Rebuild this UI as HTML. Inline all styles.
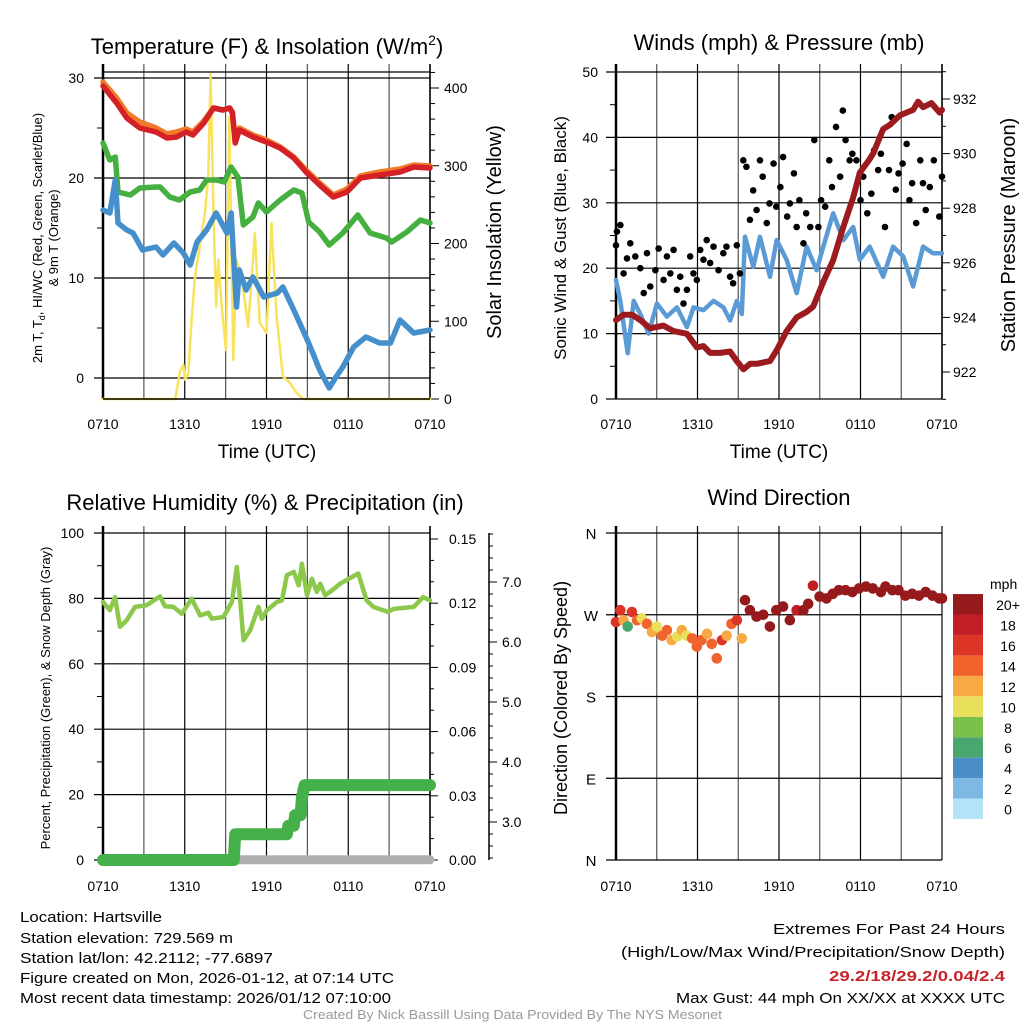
<!DOCTYPE html>
<html><head><meta charset="utf-8"><style>
html,body{margin:0;padding:0;background:#fff;}
svg{display:block;font-family:"Liberation Sans",sans-serif;}
</style></head><body>
<svg id="chart" width="1024" height="1024" viewBox="0 0 1024 1024" xmlns="http://www.w3.org/2000/svg">
<rect width="1024" height="1024" fill="#fff"/>
<text x="267" y="54" font-size="22" text-anchor="middle">Temperature (F) &amp; Insolation (W/m<tspan font-size="14" dy="-9">2</tspan><tspan dy="9">)</tspan></text>
<text x="779" y="50" font-size="22" text-anchor="middle">Winds (mph) &amp; Pressure (mb)</text>
<text x="265" y="510" font-size="22" text-anchor="middle">Relative Humidity (%) &amp; Precipitation (in)</text>
<text x="779" y="505" font-size="22" text-anchor="middle">Wind Direction</text>
<text x="267" y="458" font-size="19" text-anchor="middle">Time (UTC)</text>
<text x="779" y="458" font-size="19" text-anchor="middle">Time (UTC)</text>
<text transform="translate(42,238) rotate(-90)" font-size="13" text-anchor="middle">2m T, T<tspan font-size="9" dy="3">d</tspan><tspan dy="-3">, HI/WC (Red, Green, Scarlet/Blue)</tspan></text>
<text transform="translate(58,238) rotate(-90)" font-size="13" text-anchor="middle">&amp; 9m T (Orange)</text>
<text transform="translate(501,232) rotate(-90)" font-size="20" text-anchor="middle">Solar Insolation (Yellow)</text>
<text transform="translate(566,238) rotate(-90)" font-size="17" text-anchor="middle">Sonic Wind &amp; Gust (Blue, Black)</text>
<text transform="translate(1015,235) rotate(-90)" font-size="20" text-anchor="middle">Station Pressure (Maroon)</text>
<text transform="translate(50,698) rotate(-90)" font-size="13" text-anchor="middle">Percent, Precipitation (Green), &amp; Snow Depth (Gray)</text>
<text transform="translate(567,698) rotate(-90)" font-size="18" text-anchor="middle">Direction (Colored By Speed)</text>
<text x="990" y="589" font-size="14">mph</text>
<g font-size="15" fill="#000">
<text x="20" y="922" textLength="142" lengthAdjust="spacingAndGlyphs">Location: Hartsville</text>
<text x="20" y="943" textLength="213" lengthAdjust="spacingAndGlyphs">Station elevation: 729.569 m</text>
<text x="20" y="963" textLength="253" lengthAdjust="spacingAndGlyphs">Station lat/lon: 42.2112; -77.6897</text>
<text x="20" y="983" textLength="374" lengthAdjust="spacingAndGlyphs">Figure created on Mon, 2026-01-12, at 07:14 UTC</text>
<text x="20" y="1003" textLength="371" lengthAdjust="spacingAndGlyphs">Most recent data timestamp: 2026/01/12 07:10:00</text>
<text x="773" y="934" textLength="232" lengthAdjust="spacingAndGlyphs">Extremes For Past 24 Hours</text>
<text x="621" y="957" textLength="384" lengthAdjust="spacingAndGlyphs">(High/Low/Max Wind/Precipitation/Snow Depth)</text>
<text x="829" y="981" fill="#c8232b" font-weight="bold" textLength="176" lengthAdjust="spacingAndGlyphs">29.2/18/29.2/0.04/2.4</text>
<text x="676" y="1003" textLength="329" lengthAdjust="spacingAndGlyphs">Max Gust: 44 mph On XX/XX at XXXX UTC</text>
</g>
<text x="303" y="1019" font-size="13" fill="#999" textLength="419" lengthAdjust="spacingAndGlyphs">Created By Nick Bassill Using Data Provided By The NYS Mesonet</text>
</svg>
<script>
// ---- data ----
const timeLabels=["0710","1310","1910","0110","0710"];
const timeLabelHours=[0,6,12,18,24];
const tempTicks=[0,10,20,30];
const solarTicks=[0,100,200,300,400];
const windTicks=[0,10,20,30,40,50];
const pressTicks=[922,924,926,928,930,932];
const rhTicks=[0,20,40,60,80,100];
const precipTicks=[0,0.03,0.06,0.09,0.12,0.15];
const precipTickLabels=["0.00","0.03","0.06","0.09","0.12","0.15"];
const snowTicks=[3,4,5,6,7];
const dirTicks=[0,90,180,270,360];
const dirLabels=["N","E","S","W","N"];
const speedBins=[0,2,4,6,8,10,12,14,16,18,20];
const speedLabels=["0","2","4","6","8","10","12","14","16","18","20+"];
const speedColors=["#b5e3f8","#7db9e3","#4a8fc7","#4aa66f","#7cc04c","#e8e05a","#f7a944","#f0632c","#dd3428","#c11e25","#961a1c"];

const redH=[0,1,1.75,2.7,3.9,4.7,5.4,6.1,6.6,7.4,8.1,8.8,9.3,9.5,9.7,10,11,12,13,14,14.9,15.9,16.9,17.9,18.9,20.3,21.8,22.8,24];
const redV=[29.2,27.5,26,25,24.6,24,24.1,24.6,24.3,25.5,27,26.8,27,26.5,23.5,24.8,24.1,23.6,23,22,20.6,19.3,18.1,18.6,20,20.3,20.6,21.1,21];
const orangeV=[29.6,28,26.5,25.6,25,24.4,24.6,24.9,24.6,25.7,27,26.8,27,26.6,23.9,25,24.3,23.8,23.1,22.1,20.8,19.5,18.3,18.9,20.2,20.6,20.9,21.3,21.2];
const greenH=[0,0.5,0.9,1.1,2,2.7,3.9,4.2,4.9,5.6,6.4,7.1,7.6,8.3,8.9,9.4,9.9,10.3,11,11.4,12,13,14,14.6,15.1,15.9,16.6,17.6,18.7,19.6,20.8,21.2,22.3,23.3,24];
const greenV=[23.5,21.8,22.1,18.6,18.3,19,19.1,19.1,18.1,17.8,18.6,18.8,19.8,19.8,19.6,21.1,20.1,15.3,16.1,17.5,16.6,17.8,18.8,18.5,15.6,14.6,13.3,14.5,16.3,14.5,14,13.6,14.6,15.8,15.5];
const blueH=[0,0.5,0.9,1.1,1.75,2.2,2.9,3.9,4.4,5.2,5.9,6.4,6.9,7.6,8.3,9.1,9.4,9.8,10,10.5,11,11.8,12.8,13.2,13.9,14.9,15.4,15.9,16.6,17.1,17.6,18.4,19.3,20.3,21.1,21.8,22.8,24];
const blueV=[16.8,16.5,19.8,15.5,14.8,14.5,12.8,13.1,12.3,13.5,12.5,11.3,13.6,14.8,16.5,14.5,16.5,7.1,10.8,8.8,10.1,8.1,8.5,9.1,7.1,4.1,2.5,0.8,-1,0.1,1.1,3.1,4.1,3.5,3.5,5.8,4.5,4.8];
const solarH=[0,5.3,5.65,5.9,6.02,6.26,6.5,6.75,7.1,7.48,7.72,7.9,8.1,8.3,8.46,8.71,9.03,9.27,9.56,9.8,10.17,10.66,11.14,11.5,12,12.37,12.74,13.2,13.7,14.2,14.7,24];
const solarV=[0,0,35,44,25,33,102,157,196,239,286,418,243,119,179,119,63,363,50,179,157,93,213,98,85,226,106,29,21,8,0,0];

const pressH=[0,0.56,1.18,1.79,2.52,3.5,4.24,5.22,5.95,6.44,6.93,7.67,8.4,8.89,9.38,9.87,10.36,11.34,11.83,12.56,13.3,14.03,14.52,15.26,15.99,16.73,17.46,17.95,18.68,18.93,19.67,20.16,20.89,21.87,22.24,22.61,23.22,23.83,24];
const pressV=[923.9,924.1,924.1,923.9,923.6,923.7,923.5,923.4,922.9,922.95,922.7,922.7,922.75,922.4,922.1,922.3,922.3,922.4,922.8,923.5,924,924.2,924.4,925.3,926.1,927.3,928.4,929.3,929.8,930,930.9,931.05,931.4,931.6,931.9,931.7,931.85,931.5,931.6];
const windH=[0,0.32,0.86,1.3,1.79,2.4,3.01,3.75,4.48,5.22,5.71,6.44,7.18,7.91,8.4,8.89,9.26,9.5,10.11,10.6,11.34,11.83,12.56,13.3,14.03,14.77,15.26,15.99,16.73,17.46,17.95,18.68,19.67,20.4,21.14,21.87,22.61,23.34,24];
const windV=[18.2,15,7,15,13,10,14.6,12.6,14,11,14,13.6,15,14,12,15,13,24.8,20.2,24.8,18.7,24.3,21.3,16.2,23.3,19.7,23.3,28.4,24.3,26.3,21.3,23.3,18.7,23.3,21.8,17.2,23.3,22.3,22.3];
const gustH=[0,0.07,0.32,0.56,0.81,1.05,1.42,1.79,2.04,2.28,2.52,2.9,3.14,3.5,3.75,4.0,4.24,4.48,4.73,4.97,5.22,5.46,5.7,5.95,6.2,6.44,6.68,6.93,7.18,7.55,7.9,8.13,8.4,8.62,8.89,9.12,9.37,9.6,9.86,10.1,10.35,10.6,10.8,11.1,11.3,11.6,11.8,12.1,12.3,12.6,12.8,13.1,13.3,13.5,13.8,14.0,14.3,14.6,14.9,15.1,15.4,15.7,15.9,16.2,16.5,16.7,16.9,17.2,17.4,17.7,18.0,18.2,18.5,18.8,19.0,19.3,19.5,19.8,20.1,20.3,20.6,20.8,21.1,21.4,21.6,21.8,22.1,22.4,22.6,22.8,23.1,23.4,23.8,24];
const gustV=[23.5,25.6,26.6,19.2,21.5,23.8,21.8,20,16.2,22.3,17.2,19.7,23,18.2,21.8,19.2,22.8,16.7,18.7,14.6,16.7,21.8,19.2,18.2,22.8,21.3,24.3,20.8,23.3,19.7,22.3,23.3,18.7,17.7,23.5,19.2,36.5,35.5,27.4,31.9,28.9,36.5,34,26.9,29.9,36,29.4,32.4,37,27.9,29.9,34.5,26.3,30.4,23.8,28.4,26.3,39.6,26.3,30.4,29.4,36.5,32.4,41.6,34,44.1,39.6,36.5,37.5,36.5,30.4,34,28.4,31.4,38,35,37.5,26.3,35,43.1,32,34.5,36,39,30.4,33,26.9,36.5,33,28.9,32.4,36.5,27.9,34];

const rhH=[0,0.5,0.88,1.25,1.74,2.35,3.2,4.18,4.55,5.17,5.78,6.51,7.13,7.74,7.98,8.84,9.46,9.82,10.07,10.31,10.8,11.41,11.66,12.03,12.76,13.13,13.5,14.0,14.36,14.6,14.97,15.33,15.7,15.94,16.3,16.67,17.4,18.74,19.35,19.84,20.9,21.34,22.8,23.5,24];
const rhV=[78.9,76.4,80.4,71.3,73.3,77.4,77.9,80.6,77.6,77.4,75.3,79.9,74.8,75.6,73.8,74.3,78.9,89.6,79.4,67.2,70.3,77.4,73.8,76.4,78.9,79.4,87.1,88.1,84,90.6,81,86,82,84.5,81,82,84.5,87.6,79.4,77.4,75.9,76.8,77.4,80.4,79.4];
const precipH=[0,9.6,9.7,13.5,13.6,14.0,14.1,14.5,14.6,14.8,24];
const precipV=[0,0,0.012,0.012,0.016,0.016,0.021,0.021,0.029,0.035,0.035];
const snowH=[0,24];
const snowV=[2.37,2.37];

const dirH=[0,0.32,0.56,0.86,1.17,1.55,1.9,2.28,2.65,3.0,3.4,3.75,4.1,4.5,4.85,5.2,5.6,5.95,6.3,6.7,7.05,7.42,7.8,8.15,8.5,8.9,9.26,9.5,9.86,10.35,10.84,11.33,11.8,12.3,12.8,13.3,13.8,14.15,14.5,14.99,15.5,15.96,16.4,16.9,17.4,17.9,18.4,18.9,19.5,19.84,20.35,20.8,21.3,21.8,22.3,22.8,23.3,23.8,24];
const dirV=[262,275,264,257,273,264,266,260,251,257,247,253,242,246,253,247,244,235,242,249,238,222,242,247,260,264,244,286,275,268,270,257,275,279,264,275,275,282,302,290,288,293,297,297,295,299,301,299,295,301,297,297,291,293,291,295,291,288,288];
const dirS=[16,17,13,7,17,14,11,14,13,10,14,14,12,11,13,10,14,15,14,12,14,14,16,12,14,16,12,20,20,20,20,20,20,20,20,18,20,20,18,20,20,20,20,20,20,20,20,20,20,20,20,20,20,20,20,20,20,20,20];

// ---- helpers ----
const NS='http://www.w3.org/2000/svg';
const svg=document.getElementById('chart');
function mk(tag,attrs){const e=document.createElementNS(NS,tag);for(const k in attrs)e.setAttribute(k,attrs[k]);svg.appendChild(e);return e;}
function pathD(xs,ys,fx,fy){return xs.map((h,i)=>(i?'L':'M')+fx(h).toFixed(1)+','+fy(ys[i]).toFixed(1)).join('');}

// ---- scales ----
const xL=h=>103+h*327/24;
const xR=h=>616+h*326/24;
const yTemp=v=>78+(30-v)*10;
const ySolar=s=>399-s*0.7775;
const yWind=v=>399-v*6.54;
const yPress=p=>372-(p-922)*27.3;
const yRH=v=>860-v*3.27;
const yPrecip=p=>860-p*321/0.15;
const ySnow=d=>822-(d-3)*60;
const yDir=d=>860-d*327/360;

function vgrid(fx,top,bot,name){
  for(let h=0;h<=24;h+=3){
    const l=mk('line',{x1:fx(h),x2:fx(h),y1:top,y2:bot,stroke:(h%6===0?'#000':'#555'),'stroke-width':(h===0?2.5:1.2)});
    
    
  }
}
function xlabels(fx,y,name){
  timeLabels.forEach((t,i)=>{
    const e=mk('text',{x:fx(timeLabelHours[i]),y:y,'font-size':14,'text-anchor':'middle'});
    e.textContent=t;
    
    
  });
}
function hline(x1,x2,y,name,w){
  const l=mk('line',{x1:x1,x2:x2,y1:y,y2:y,stroke:'#000','stroke-width':w||1.2});
  
  
}
function label(x,y,t,anchor,name,size){
  const e=mk('text',{x:x,y:y,'font-size':size||14,'text-anchor':anchor});
  e.textContent=t;
  
  
}
function tick(x1,x2,y,name){
  const l=mk('line',{x1:x1,x2:x2,y1:y,y2:y,stroke:'#000','stroke-width':1});
  
  
}
function line(xs,ys,fx,fy,color,w,name){
  const p=mk('path',{d:pathD(xs,ys,fx,fy),fill:'none',stroke:color,'stroke-width':w,'stroke-linejoin':'round','stroke-linecap':'round'});
  
  
}

// ---- panel 1: temperature ----
vgrid(xL,64,399,'temp');
hline(103,430,72,'temp-top-border');
tempTicks.forEach(v=>{hline(94,430,yTemp(v),'temp-hgrid');label(84,yTemp(v)+5,String(v),'end','temp-y-tick-label');});
[5,15,25].forEach(v=>tick(97,103,yTemp(v),'temp-minor-tick'));
(function(){const l=mk('line',{x1:430,x2:430,y1:64,y2:399,stroke:'#000','stroke-width':1.5});})();
for(let s=0;s<=420;s+=20){tick(430,s%100===0?439:435,ySolar(s),'solar-tick');}
solarTicks.forEach(s=>label(444,ySolar(s)+5,String(s),'start','solar-y-tick-label'));
line(solarH,solarV,xL,ySolar,'#f9e35c',2.5,'solar-line');
line(redH,orangeV,xL,yTemp,'#f07a28',5.5,'temp-9m-line');
line(redH,redV,xL,yTemp,'#d42027',5.5,'temp-2m-line');
line(greenH,greenV,xL,yTemp,'#45b03f',5.5,'hiwc-line');
line(blueH,blueV,xL,yTemp,'#4590cc',5.5,'dewpoint-line');
hline(103,430,399,'temp-bottom-border',1.5);
xlabels(xL,429,'temp');

// ---- panel 2: wind ----
vgrid(xR,64,399,'wind');
windTicks.forEach(v=>{hline(606,942,yWind(v),'wind-hgrid');label(598,yWind(v)+5,String(v),'end','wind-y-tick-label');});
[5,15,25,35,45].forEach(v=>tick(610,616,yWind(v),'wind-minor-tick'));
(function(){const l=mk('line',{x1:942,x2:942,y1:64,y2:399,stroke:'#000','stroke-width':1.5});})();
for(let p=921;p<=933;p+=1){tick(942,p%2===0?950:946,yPress(p),'pressure-tick');}
pressTicks.forEach(p=>label(953,yPress(p)+5,String(p),'start','pressure-y-tick-label'));
line(windH,windV,xR,yWind,'#5b9bd5',4.5,'sonic-wind-line');
gustH.forEach((h,i)=>{
  const c=mk('circle',{cx:xR(h),cy:yWind(gustV[i]),r:3.3,fill:'#000'});
  
  
});
line(pressH,pressV,xR,yPress,'#9b1b1e',6,'pressure-line');
xlabels(xR,429,'wind');

// ---- panel 3: RH / precip ----
vgrid(xL,526,860,'rh');
rhTicks.forEach(v=>{hline(94,430,yRH(v),'rh-hgrid');label(84,yRH(v)+5,String(v),'end','rh-y-tick-label');});
[10,30,50,70,90].forEach(v=>tick(97,103,yRH(v),'rh-minor-tick'));
(function(){const l=mk('line',{x1:430,x2:430,y1:526,y2:860,stroke:'#000','stroke-width':1.5});})();
for(let k=0;k<=15;k++){tick(430,k%3===0?438:434,yPrecip(k*0.01),'precip-tick');}
precipTicks.forEach((p,i)=>label(449,yPrecip(p)+5,precipTickLabels[i],'start','precip-y-tick-label'));
(function(){const l=mk('line',{x1:489,x2:489,y1:533,y2:860,stroke:'#000','stroke-width':1.5});})();
for(let k=12;k<=39;k++){const d=k*0.2;if(ySnow(d)>=533&&ySnow(d)<=860)tick(489,k%5===0?497:493,ySnow(d),'snow-tick');}
snowTicks.forEach(d=>label(502,ySnow(d)+5,d.toFixed(1),'start','snow-y-tick-label'));
line(snowH,snowV,xL,ySnow,'#b0b0b0',9,'snow-depth-line');
line(precipH,precipV,xL,yPrecip,'#45b04a',12,'precip-line');
line(rhH,rhV,xL,yRH,'#8cc84b',4.5,'rh-line');
xlabels(xL,891,'rh');

// ---- panel 4: direction ----
vgrid(xR,526,860,'dir');
dirTicks.forEach((d,i)=>{hline(606,942,yDir(d),'dir-hgrid');label(591,yDir(d)+6,dirLabels[i],'middle','dir-y-tick-label',15);});
function speedColor(s){let c=speedColors[0];speedBins.forEach((b,i)=>{if(s>=b)c=speedColors[i];});return c;}
dirH.forEach((h,i)=>{
  const c=mk('circle',{cx:xR(h),cy:yDir(dirV[i]),r:5.3,fill:speedColor(dirS[i])});
  
  
});
xlabels(xR,891,'dir');
// colorbar
speedColors.forEach((col,i)=>{
  const y=819-(i+1)*20.45;
  const r=mk('rect',{x:953,y:y,width:30,height:20.45,fill:col});
  
  
  const t=mk('text',{x:1008,y:y+16,'font-size':14,'text-anchor':'middle'});
  t.textContent=speedLabels[i];
  
  
});
</script>
</body></html>
